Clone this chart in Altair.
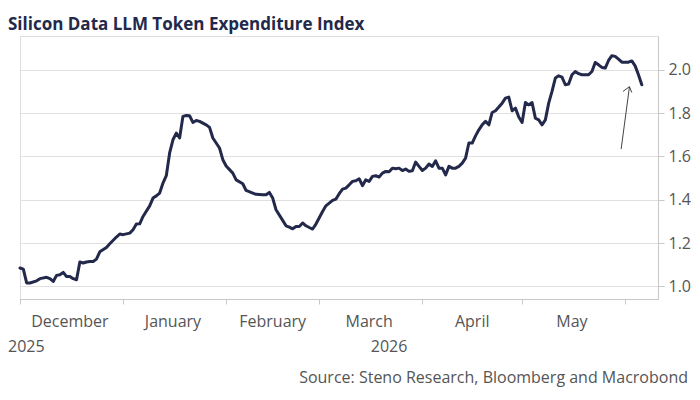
import pandas as pd
import altair as alt

# daily index values
dates = [
    "2025-12-01", "2025-12-02", "2025-12-03", "2025-12-04", "2025-12-06", "2025-12-07",
    "2025-12-09", "2025-12-10", "2025-12-11", "2025-12-12", "2025-12-13", "2025-12-14",
    "2025-12-15", "2025-12-16", "2025-12-17", "2025-12-18", "2025-12-19", "2025-12-20",
    "2025-12-21", "2025-12-22", "2025-12-23", "2025-12-24", "2025-12-25", "2025-12-27",
    "2025-12-28", "2025-12-30", "2025-12-31",
    "2026-01-01", "2026-01-03", "2026-01-04", "2026-01-05", "2026-01-06", "2026-01-07",
    "2026-01-09", "2026-01-10", "2026-01-11", "2026-01-12", "2026-01-13", "2026-01-14",
    "2026-01-15", "2026-01-16", "2026-01-17", "2026-01-18", "2026-01-19", "2026-01-20",
    "2026-01-21", "2026-01-22", "2026-01-23", "2026-01-24", "2026-01-26", "2026-01-27",
    "2026-01-28", "2026-01-30", "2026-01-31",
    "2026-02-01", "2026-02-03", "2026-02-04", "2026-02-06", "2026-02-07", "2026-02-09",
    "2026-02-10", "2026-02-12", "2026-02-13", "2026-02-14", "2026-02-15", "2026-02-16",
    "2026-02-18", "2026-02-19", "2026-02-20", "2026-02-21", "2026-02-22", "2026-02-23",
    "2026-02-24", "2026-02-25", "2026-02-26", "2026-02-27", "2026-02-28",
    "2026-03-02", "2026-03-03", "2026-03-05", "2026-03-06", "2026-03-07", "2026-03-08",
    "2026-03-09", "2026-03-10", "2026-03-11", "2026-03-12", "2026-03-13", "2026-03-14",
    "2026-03-15", "2026-03-16", "2026-03-17", "2026-03-18", "2026-03-19", "2026-03-20",
    "2026-03-21", "2026-03-22", "2026-03-23", "2026-03-24", "2026-03-25", "2026-03-26",
    "2026-03-27", "2026-03-28", "2026-03-29", "2026-03-30", "2026-03-31",
    "2026-04-01", "2026-04-02", "2026-04-03", "2026-04-04", "2026-04-05", "2026-04-06",
    "2026-04-07", "2026-04-08", "2026-04-09", "2026-04-10", "2026-04-11", "2026-04-12",
    "2026-04-13", "2026-04-14", "2026-04-15", "2026-04-16", "2026-04-17", "2026-04-18",
    "2026-04-19", "2026-04-20", "2026-04-21", "2026-04-22", "2026-04-23", "2026-04-24",
    "2026-04-25", "2026-04-26", "2026-04-27", "2026-04-28", "2026-04-29", "2026-04-30",
    "2026-05-01", "2026-05-02", "2026-05-03", "2026-05-04", "2026-05-05", "2026-05-06",
    "2026-05-07", "2026-05-08", "2026-05-09", "2026-05-10", "2026-05-11", "2026-05-12",
    "2026-05-13", "2026-05-14", "2026-05-15", "2026-05-16", "2026-05-17", "2026-05-18",
    "2026-05-19", "2026-05-21", "2026-05-22", "2026-05-23", "2026-05-24", "2026-05-25",
    "2026-05-26", "2026-05-27", "2026-05-28", "2026-05-29", "2026-05-30", "2026-05-31",
    "2026-06-02", "2026-06-03", "2026-06-04", "2026-06-05", "2026-06-06",
]
index_values = [
    1.085, 1.080, 1.016, 1.016, 1.026, 1.036,
    1.042, 1.036, 1.023, 1.051, 1.054, 1.065,
    1.046, 1.046, 1.036, 1.031, 1.113, 1.108,
    1.113, 1.115, 1.115, 1.126, 1.160, 1.180,
    1.197, 1.228, 1.242,
    1.239, 1.246, 1.262, 1.288, 1.289, 1.323,
    1.372, 1.408, 1.418, 1.431, 1.477, 1.511,
    1.616, 1.677, 1.708, 1.685, 1.785, 1.789,
    1.788, 1.757, 1.766, 1.762, 1.746, 1.734,
    1.685, 1.639, 1.585,
    1.556, 1.523, 1.492, 1.474, 1.443, 1.431,
    1.425, 1.423, 1.423, 1.434, 1.408, 1.354,
    1.305, 1.280, 1.274, 1.266, 1.277, 1.277,
    1.293, 1.280, 1.272, 1.265, 1.288,
    1.346, 1.372, 1.397, 1.403, 1.428, 1.449,
    1.454, 1.469, 1.485, 1.488, 1.497, 1.465,
    1.492, 1.485, 1.508, 1.511, 1.505, 1.523,
    1.531, 1.529, 1.546, 1.543, 1.546, 1.535,
    1.542, 1.531, 1.534, 1.574, 1.554,
    1.535, 1.546, 1.565, 1.554, 1.580, 1.546,
    1.546, 1.515, 1.554, 1.546, 1.546, 1.554,
    1.569, 1.592, 1.662, 1.662, 1.695, 1.723,
    1.746, 1.762, 1.746, 1.803, 1.811, 1.828,
    1.846, 1.869, 1.874, 1.811, 1.823, 1.782,
    1.757, 1.849, 1.838, 1.849, 1.777, 1.769,
    1.746, 1.769, 1.846, 1.900, 1.962, 1.972,
    1.966, 1.931, 1.934, 1.977, 1.992, 1.982,
    1.977, 1.977, 1.992, 2.034, 2.023, 2.011,
    2.008, 2.043, 2.065, 2.062, 2.049, 2.035,
    2.035, 2.041, 2.018, 1.977, 1.931,
]

month_names = ["December", "January", "February", "March", "April", "May"]
month_mids = ["2025-12-16", "2026-01-16", "2026-02-15", "2026-03-16", "2026-04-16", "2026-05-16"]

y_ticks = [1.0, 1.1, 1.2, 1.3, 1.4, 1.5, 1.6, 1.7, 1.8, 1.9, 2.0, 2.1]

# arrow: shaft + two head strokes, all ending at the tip
arrow_start = ["2026-05-30T19:00:00Z", "2026-05-31T08:00:00Z", "2026-06-03T00:00:00Z"]
arrow_start_y = [1.634, 1.900, 1.895]
arrow_tip = ["2026-06-02T07:00:00Z"] * 3
arrow_tip_y = [1.922] * 3

title_text = "Silicon Data LLM Token Expenditure Index"
source_text = "Source: Steno Research, Bloomberg and Macrobond"

FONT = "Open Sans"
NAVY = "#22294a"
GREY_TEXT = "#555555"

df = pd.DataFrame({"date": dates, "value": index_values})
months = pd.DataFrame({"date": month_mids, "name": month_names})
arrow = pd.DataFrame({"x": arrow_start, "y": arrow_start_y, "x2": arrow_tip, "y2": arrow_tip_y})

x_scale = alt.Scale(
    type="utc",
    domain=[
        alt.DateTime(year=2025, month=12, date=1, utc=True),
        alt.DateTime(year=2026, month=6, date=10, hours=21, utc=True),
    ],
)
y_scale = alt.Scale(domain=[0.942, 2.156], nice=False, zero=False)

month_starts = [
    alt.DateTime(year=2025, month=12, date=1, utc=True),
    alt.DateTime(year=2026, month=1, date=1, utc=True),
    alt.DateTime(year=2026, month=2, date=1, utc=True),
    alt.DateTime(year=2026, month=3, date=1, utc=True),
    alt.DateTime(year=2026, month=4, date=1, utc=True),
    alt.DateTime(year=2026, month=5, date=1, utc=True),
    alt.DateTime(year=2026, month=6, date=1, utc=True),
]

line = (
    alt.Chart(df)
    .mark_line(color=NAVY, strokeWidth=3, strokeJoin="round", strokeCap="round")
    .encode(
        x=alt.X(
            "date:T",
            scale=x_scale,
            axis=alt.Axis(
                values=month_starts,
                labels=False,
                grid=False,
                title=None,
                domainColor="#c8c8c8",
                tickColor="#c8c8c8",
                tickSize=5,
            ),
        ),
        y=alt.Y(
            "value:Q",
            scale=y_scale,
            axis=alt.Axis(
                orient="right",
                values=y_ticks,
                labelExpr="round(datum.value * 10) % 2 == 0 ? format(datum.value, '.1f') : ''",
                grid=True,
                gridColor="#e0e0e0",
                gridWidth=1,
                domainColor="#c8c8c8",
                tickColor="#c8c8c8",
                tickSize=6,
                labelPadding=4,
                labelFont=FONT,
                labelFontSize=16,
                labelColor=GREY_TEXT,
                title=None,
            ),
        ),
    )
)

arrow_marks = (
    alt.Chart(arrow)
    .mark_rule(color="#444444", strokeWidth=1)
    .encode(x="x:T", x2="x2:T", y="y:Q", y2="y2:Q")
)

month_labels = (
    alt.Chart(months)
    .mark_text(font=FONT, fontSize=16, color=GREY_TEXT, align="center", baseline="alphabetic")
    .encode(x="date:T", y=alt.value(291), text="name:N")
)

year_2025 = (
    alt.Chart(pd.DataFrame({"t": ["2025"]}))
    .mark_text(font=FONT, fontSize=16, color=GREY_TEXT, align="left", baseline="alphabetic")
    .encode(x=alt.value(-12), y=alt.value(316), text="t:N")
)
year_2026 = (
    alt.Chart(pd.DataFrame({"t": ["2026"], "date": ["2026-03-22"]}))
    .mark_text(font=FONT, fontSize=16, color=GREY_TEXT, align="center", baseline="alphabetic")
    .encode(x="date:T", y=alt.value(316), text="t:N")
)

title = (
    alt.Chart(pd.DataFrame({"t": [title_text]}))
    .mark_text(font=FONT, fontSize=17, fontWeight="bold", color=NAVY, align="left", baseline="alphabetic")
    .encode(x=alt.value(-12), y=alt.value(-6), text="t:N")
)

source = (
    alt.Chart(pd.DataFrame({"t": [source_text]}))
    .mark_text(font=FONT, fontSize=16, color=GREY_TEXT, align="right", baseline="alphabetic")
    .encode(x=alt.value(668), y=alt.value(347), text="t:N")
)

chart = (
    alt.layer(line, arrow_marks, month_labels, year_2025, year_2026, title, source)
    .properties(
        width=638,
        height=263,
        autosize=alt.AutoSizeParams(type="none"),
        padding={"left": 12, "top": 28, "right": 34, "bottom": 92},
    )
    .configure_view(strokeWidth=0)
    .configure(background="white")
)

chart.save("out.html", embed_options={"renderer": "svg", "actions": False})
